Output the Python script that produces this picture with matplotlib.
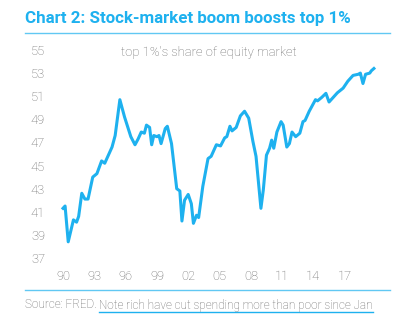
import matplotlib
matplotlib.use("Agg")
import matplotlib.pyplot as plt
from matplotlib.lines import Line2D

# share of equity market held by top 1%
years = [
    1990.0, 1990.2, 1990.5, 1991.0, 1991.3, 1991.5, 1991.8, 1992.1, 1992.4, 1992.85,
    1993.25, 1993.7, 1994.0, 1994.7, 1995.0, 1995.45, 1995.9, 1996.5, 1996.9, 1997.2,
    1997.5, 1997.8, 1998.0, 1998.3, 1998.5, 1998.7, 1999.0, 1999.2, 1999.4, 1999.8,
    2000.0, 2000.4, 2000.9, 2001.2, 2001.4, 2001.65, 2002.0, 2002.3, 2002.5, 2002.8,
    2003.0, 2003.4, 2003.9, 2004.2, 2004.55, 2004.7, 2005.1, 2005.5, 2005.7, 2006.0,
    2006.2, 2006.6, 2007.0, 2007.4, 2007.8, 2008.1, 2008.2, 2008.5, 2008.97, 2009.2,
    2009.5, 2009.8, 2010.0, 2010.2, 2010.5, 2010.9, 2011.1, 2011.45, 2011.7, 2011.95,
    2012.3, 2012.7, 2013.0, 2013.2, 2013.6, 2014.2, 2014.4, 2014.8, 2015.2, 2015.5,
    2015.9, 2016.3, 2016.85, 2017.3, 2017.8, 2018.3, 2018.5, 2018.75, 2019.0, 2019.4,
    2019.55, 2019.8,
]
share = [
    41.3, 41.5, 38.4, 40.3, 40.1, 40.6, 42.6, 42.1, 42.1, 44.0,
    44.3, 45.4, 45.2, 46.6, 47.6, 50.7, 49.2, 47.5, 46.8, 47.3,
    47.9, 47.8, 48.5, 48.3, 46.8, 47.6, 47.5, 47.6, 46.9, 48.2,
    48.4, 46.9, 43.0, 42.8, 40.2, 42.0, 42.5, 41.7, 40.0, 40.7,
    40.5, 43.2, 45.6, 45.8, 46.5, 46.8, 46.7, 47.4, 47.5, 48.4,
    48.0, 48.3, 49.3, 49.7, 49.1, 47.6, 47.1, 45.8, 41.3, 42.9,
    45.9, 46.5, 47.2, 46.5, 47.9, 48.8, 48.5, 46.6, 46.9, 47.9,
    47.5, 47.8, 48.8, 48.9, 49.7, 50.7, 50.6, 50.9, 51.25, 50.5,
    50.9, 51.3, 51.7, 52.3, 52.8, 52.9, 53.0, 52.1, 52.9, 53.0,
    53.2, 53.4,
]
y_ticks = [37, 39, 41, 43, 45, 47, 49, 51, 53, 55]
x_ticks = [1990, 1993, 1996, 1999, 2002, 2005, 2008, 2011, 2014, 2017]
x_labels = ["90", "93", "96", "99", "02", "05", "08", "11", "14", "17"]

BLUE = "#1eb1ef"
GREY = "#6a6a6a"
W, H = 406, 325

plt.rcParams["font.family"] = ["Roboto", "DejaVu Sans"]

fig = plt.figure(figsize=(W / 100, H / 100), dpi=100)
fig.patch.set_facecolor("white")

# axes placed so that 1990..2020 spans x 63..376 px and 37..55 spans y 258..50 px
ax = fig.add_axes([63 / W, 1 - 258 / H, 313 / W, 208 / H])
ax.plot(years, share, color=BLUE, linewidth=2.2, solid_joinstyle="round", clip_on=False)
ax.set_xlim(1990, 2020)
ax.set_ylim(37, 55)
ax.set_yticks(y_ticks)
ax.set_xticks(x_ticks)
ax.set_xticklabels(x_labels)
ax.tick_params(length=0, labelsize=9.3, labelcolor=GREY)
ax.tick_params(axis="y", pad=13)
ax.tick_params(axis="x", pad=9)
for lab in ax.get_xticklabels() + ax.get_yticklabels():
    lab.set_fontweight("light")
for s in ax.spines.values():
    s.set_visible(False)
ax.patch.set_alpha(0)

ax.text(1995.6, 54.8, "top 1%'s share of equity market", fontsize=9.4, color=GREY,
        fontweight="light", va="center", ha="left")

# header and footer
fig.text(25 / W, 1 - 19 / H, "Chart 2: Stock-market boom boosts top 1%", fontsize=12.2,
         fontweight="bold", color=BLUE, va="center", ha="left")
fig.add_artist(Line2D([25 / W, 390 / W], [1 - 33 / H] * 2, color=BLUE, linewidth=1.0,
                      alpha=0.7, transform=fig.transFigure))
fig.add_artist(Line2D([25 / W, 390 / W], [1 - 290 / H] * 2, color=BLUE, linewidth=1.0,
                      alpha=0.7, transform=fig.transFigure))

src = fig.text(25 / W, 1 - 305 / H, "Source: FRED. ", fontsize=8.5, color=GREY,
               fontweight="light", va="center", ha="left")
fig.canvas.draw()
bb = src.get_window_extent()
note = fig.text(bb.x1 / W, 1 - 305 / H, "Note rich have cut spending more than poor since Jan",
                fontsize=8.5, color=GREY, fontweight="light", va="center", ha="left")
fig.canvas.draw()
nb = note.get_window_extent()
fig.add_artist(Line2D([nb.x0 / W, nb.x1 / W], [1 - 312 / H] * 2, color=BLUE, linewidth=1.0,
                      transform=fig.transFigure))

fig.savefig("out.png", dpi=100)
